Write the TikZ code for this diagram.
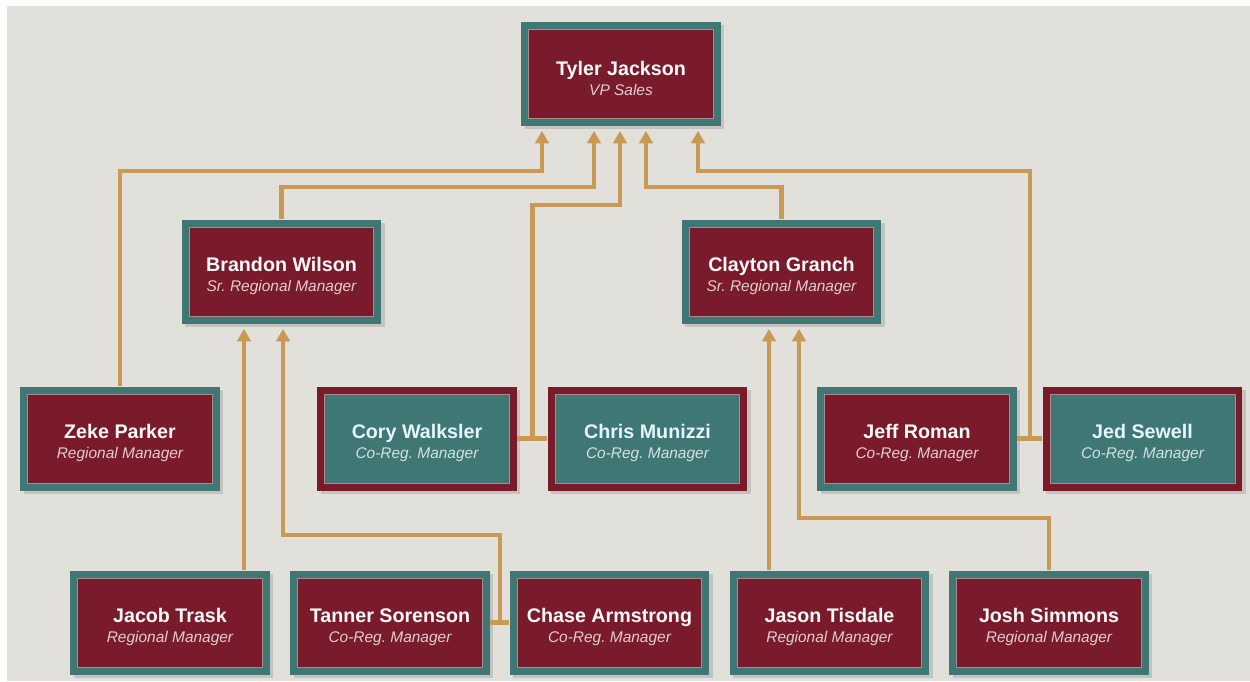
\documentclass[tikz,border=0pt]{standalone}
\usepackage{fontspec}
\setmainfont{Liberation Sans}
\usepackage{xcolor}
\usetikzlibrary{arrows.meta,shadows,calc}
\definecolor{paper}{HTML}{E2E0DB}
\definecolor{wine}{HTML}{7A1B2C}
\definecolor{sea}{HTML}{3E7774}
\definecolor{rope}{HTML}{C99A55}
\definecolor{seam}{HTML}{A88A8F}
\colorlet{role}{white}
\colorlet{core}{wine}
\frenchspacing
\newcommand{\staff}[2]{\rule{0pt}{13.5pt}#1\\[-2pt]{\fontsize{8.8}{10.5}\selectfont\mdseries\itshape\color{role}#2}}

\tikzset{
  main node/.style={rectangle,minimum width=4cm,minimum height=2.08cm,
    inner sep=0pt,align=center,
    drop shadow={shadow xshift=0.07cm,shadow yshift=-0.07cm,opacity=0.3},
    font=\fontsize{11.2}{13.6}\selectfont\bfseries,
    path picture={\draw[line width=0.02cm,draw=seam,fill=core]
      ([shift={(0.15cm,0.15cm)}]path picture bounding box.south west) rectangle
      ([shift={(-0.15cm,-0.15cm)}]path picture bounding box.north east);}},
  red node/.style={main node,fill=sea,text=white!92!pink,
    execute at begin node={\colorlet{role}{white!78!wine}}},
  teal node/.style={main node,fill=wine,text=white!90!cyan,
    execute at begin node={\colorlet{role}{white!78!sea}}},
  link/.style={draw=rope,line width=0.09cm},
  arrow link/.style={link,->,shorten >=0.1cm}
}

\begin{document}
\begin{tikzpicture}[x=0.02cm,y=-0.02cm,>={Triangle[width=0.27cm,length=0.25cm]}]

  \useasboundingbox (0,0) rectangle (1250,681);
  \fill[white] (0,0) rectangle (1250,681);
  \fill[paper] (7,6) rectangle (1250,681);

  \node[red node] (tyler) at (621,73.5) {\staff{Tyler Jackson}{VP Sales}};

  \node[red node] (brandon) at (281.5,271.5) {\staff{Brandon Wilson}{Sr. Regional Manager}};
  \node[red node] (clayton) at (781.5,271.5) {\staff{Clayton Granch}{Sr. Regional Manager}};

  \node[red node]  (zeke)  at (120,438.5)    {\staff{Zeke Parker}{Regional Manager}};
  \colorlet{core}{sea}
  \node[teal node] (cory)  at (417,438.5)    {\staff{Cory Walksler}{Co-Reg. Manager}};
  \node[teal node] (chris) at (647.5,438.5)  {\staff{Chris Munizzi}{Co-Reg. Manager}};
  \node[teal node] (jed)   at (1142.5,438.5) {\staff{Jed Sewell}{Co-Reg. Manager}};
  \colorlet{core}{wine}
  \node[red node]  (jeff)  at (917,438.5)    {\staff{Jeff Roman}{Co-Reg. Manager}};

  \node[red node] (jacob)  at (170,622.5)    {\staff{Jacob Trask}{Regional Manager}};
  \node[red node] (tanner) at (390,622.5)    {\staff{Tanner Sorenson}{Co-Reg. Manager}};
  \node[red node] (chase)  at (609.5,622.5)  {\staff{Chase Armstrong}{Co-Reg. Manager}};
  \node[red node] (jason)  at (829.5,622.5)  {\staff{Jason Tisdale}{Regional Manager}};
  \node[red node] (josh)   at (1049,622.5)   {\staff{Josh Simmons}{Regional Manager}};

  % bends of the reporting lines
  \coordinate (z0) at (542,171);
  \coordinate (b0) at (594,187);
  \coordinate (c0) at (620,205);
  \coordinate (g0) at (646,187);
  \coordinate (j0) at (698,171);
  \coordinate (a0) at (244,535);
  \coordinate (t0) at (283,535);
  \coordinate (s0) at (769,518);
  \coordinate (h0) at (799,518);

  % shared seats
  \draw[link] (cory) -- (chris);
  \draw[link] (jeff) -- (jed);
  \draw[link] (tanner) -- (chase);
  \coordinate (cc) at ($(cory.east)!.5!(chris.west)$);
  \coordinate (jj) at ($(jeff.east)!.5!(jed.west)$);
  \coordinate (tt) at ($(tanner.east)!.5!(chase.west)$);

  % up to the VP
  \draw[arrow link] (zeke.north) |- (z0) -- (z0 |- tyler.south);
  \draw[arrow link] (brandon.north) |- (b0) -- (b0 |- tyler.south);
  \draw[arrow link] (cc) |- (c0) -- (c0 |- tyler.south);
  \draw[arrow link] (clayton.north) |- (g0) -- (g0 |- tyler.south);
  \draw[arrow link] (jj) |- (j0) -- (j0 |- tyler.south);

  % up to the senior managers
  \draw[arrow link] (jacob.north -| a0) -- (brandon.south -| a0);
  \draw[arrow link] (tt) |- (t0) -- (t0 |- brandon.south);
  \draw[arrow link] (jason.north -| s0) -- (clayton.south -| s0);
  \draw[arrow link] (josh.north) |- (h0) -- (h0 |- clayton.south);
\end{tikzpicture}
\end{document}
